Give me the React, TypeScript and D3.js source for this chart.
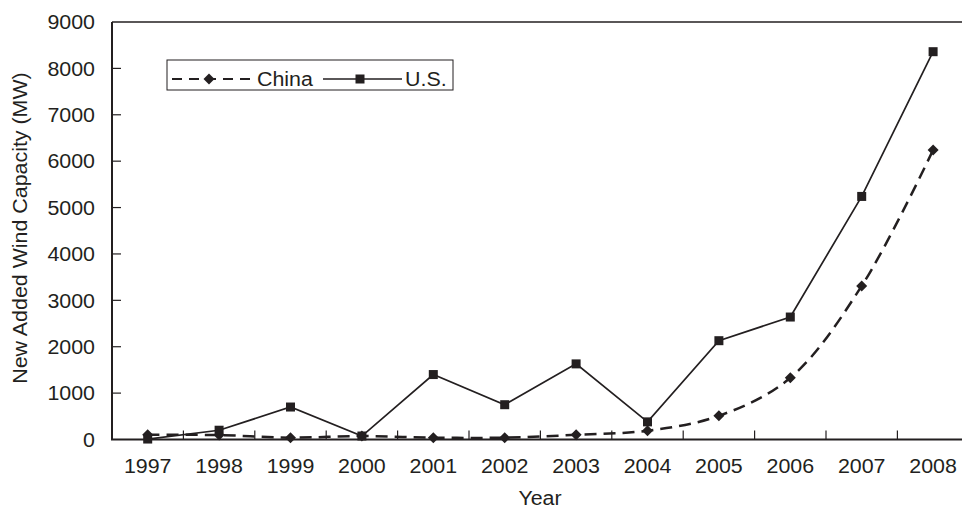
import React from "react";
import * as d3 from "d3";

const years = ["1997","1998","1999","2000","2001","2002","2003","2004","2005","2006","2007","2008"];
const chinaValues = [100, 95, 40, 75, 40, 40, 100, 190, 510, 1330, 3310, 6240];
const usValues = [10, 200, 700, 75, 1400, 750, 1630, 380, 2130, 2640, 5240, 8360];
const yTicks = [0, 1000, 2000, 3000, 4000, 5000, 6000, 7000, 8000, 9000];

const W = 962, H = 508;
const left = 112, top = 22, bottom = 439.5;
const step = 71.4;
const ink = "#231f20";
const font = "'Liberation Sans', Arial, Helvetica, sans-serif";
const fs = 20;
const sx = 1.07;

function T(props: { x: number; y: number; anchor?: string; rotate?: number; dy?: string; children: React.ReactNode }) {
  const { x, y, anchor = "start", rotate = 0, dy, children } = props;
  return (
    <text
      transform={`translate(${x},${y}) rotate(${rotate}) scale(${sx},1)`}
      textAnchor={anchor}
      dy={dy}
      fontSize={fs}
      fill={ink}
    >
      {children}
    </text>
  );
}

export default function App() {
  const x = d3.scaleBand<string>().domain(years).range([left, left + step * years.length]).paddingInner(0).paddingOuter(0);
  const y = d3.scaleLinear().domain([0, 9000]).range([bottom, top]);
  const cx = (i: number) => (x(years[i]) as number) + x.bandwidth() / 2;

  const chinaLine = d3.line<number>().x((_, i) => cx(i)).y((d) => y(d)).curve(d3.curveCatmullRom.alpha(0.5));
  const usLine = d3.line<number>().x((_, i) => cx(i)).y((d) => y(d));

  const diamond = (px: number, py: number, r = 5.5) => `M${px},${py - r}L${px + r},${py}L${px},${py + r}L${px - r},${py}Z`;

  return (
    <svg width={W} height={H} style={{ position: "absolute", left: 0, top: 0, background: "#fff" }} fontFamily={font}>
      {/* frame */}
      <line x1={left} x2={W} y1={top} y2={top} stroke={ink} strokeWidth={1.5} />
      <line x1={left} x2={left} y1={top} y2={bottom} stroke={ink} strokeWidth={2} />
      <line x1={left - 1} x2={W} y1={bottom} y2={bottom} stroke={ink} strokeWidth={2} />
      {/* y ticks */}
      {yTicks.map((t) => (
        <g key={t}>
          {t > 0 && t < 9000 && <line x1={left} x2={left + 9} y1={y(t)} y2={y(t)} stroke={ink} strokeWidth={1.2} />}
          <T x={95} y={y(t)} dy="0.36em" anchor="end">{t}</T>
        </g>
      ))}
      {/* x ticks */}
      {years.map((yr, i) => (
        <g key={yr}>
          {i > 0 && <line x1={x(yr) as number} x2={x(yr) as number} y1={bottom} y2={bottom - 9} stroke={ink} strokeWidth={1.2} />}
          <T x={cx(i)} y={472.5} anchor="middle">{yr}</T>
        </g>
      ))}
      <T x={540} y={505} anchor="middle">Year</T>
      <T x={27} y={228} rotate={-90} anchor="middle">New Added Wind Capacity (MW)</T>

      {/* China */}
      <path d={chinaLine(chinaValues) || ""} fill="none" stroke={ink} strokeWidth={2.5} strokeDasharray="12,7" />
      {chinaValues.map((v, i) => (
        <path key={i} d={diamond(cx(i), y(v))} fill={ink} />
      ))}
      {/* US */}
      <path d={usLine(usValues) || ""} fill="none" stroke={ink} strokeWidth={1.7} />
      {usValues.map((v, i) => (
        <rect key={i} x={cx(i) - 4.5} y={y(v) - 4.5} width={9} height={9} fill={ink} />
      ))}

      {/* legend */}
      <rect x={167} y={60} width={286} height={30} fill="#fff" stroke={ink} strokeWidth={1} />
      <line x1={172} x2={250} y1={79} y2={79} stroke={ink} strokeWidth={2.2} strokeDasharray="10,7" />
      <path d={diamond(209, 79)} fill={ink} />
      <T x={257} y={79} dy="0.36em">China</T>
      <line x1={323} x2={402} y1={79} y2={79} stroke={ink} strokeWidth={1.7} />
      <rect x={355.5} y={74.5} width={9} height={9} fill={ink} />
      <T x={405} y={79} dy="0.36em">U.S.</T>
    </svg>
  );
}
